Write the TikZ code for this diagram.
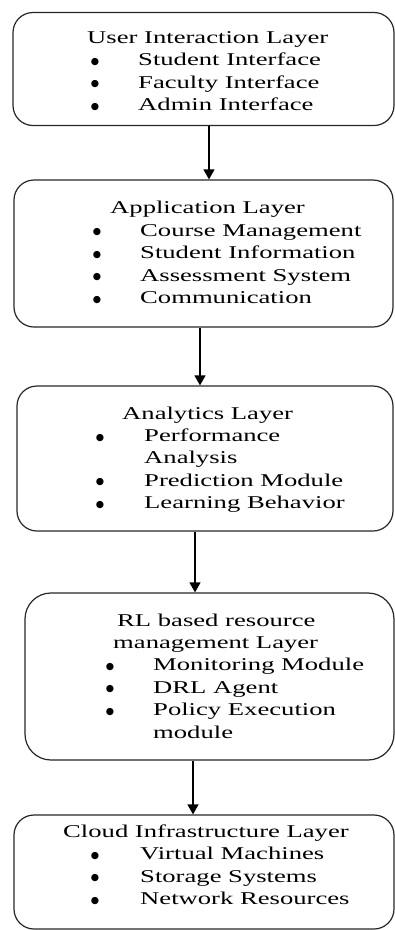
\documentclass[tikz,border=0pt]{standalone}
\usepackage{fontspec}
\setmainfont[FakeStretch=1.48]{Liberation Serif}
\newfontfamily\bulfont{DejaVu Sans}
\usetikzlibrary{arrows.meta}
\tikzset{
  layer/.style={draw=black!85, line width=1.2pt, rounded corners=20pt, minimum width=#1},
  txt/.style={anchor=base west, inner sep=0pt, font=\fontsize{18}{22}\selectfont},
  bul/.style={anchor=base, inner sep=0pt, font=\bulfont\fontsize{9.5}{22}\selectfont},
  arr/.style={draw=black, line width=1.4pt, -{Triangle[length=10pt,width=11pt]}}
}
\begin{document}
\begin{tikzpicture}[x=1pt,y=-1pt]
\useasboundingbox (0,0) rectangle (395,930);
% boxes
\node[layer=381pt, minimum height=113pt] (b1) at (203.5,69) {};
\node[layer=379pt, minimum height=147pt] (b2) at (203.5,253.5) {};
\node[layer=376pt, minimum height=145pt] (b3) at (205,458.5) {};
\node[layer=369pt, minimum height=167pt, rounded corners=26pt] (b4) at (209.5,676.5) {};
\node[layer=380pt, minimum height=114pt] (b5) at (204,872) {};
% box 1
\node[txt] (t1) at (87,43) {User Interaction Layer};
\node[bul] (p11) at (95,64) {●}; \node[txt] (t11) at (138,65.5) {Student Interface};
\node[bul] (p12) at (95,86.5) {●};   \node[txt] (t12) at (138,88) {Faculty Interface};
\node[bul] (p13) at (95,109) {●};\node[txt] (t13) at (138,110.5) {Admin Interface};
% box 2
\node[txt] (t2) at (110,213) {Application Layer};
\node[bul] (p21) at (97,234.5) {●}; \node[txt] (t21) at (140,236) {Course Management};
\node[bul] (p22) at (97,257) {●}; \node[txt] (t22) at (140,258.5) {Student Information};
\node[bul] (p23) at (97,279.5) {●}; \node[txt] (t23) at (140,281) {Assessment System};
\node[bul] (p24) at (97,302) {●}; \node[txt] (t24) at (140,303.5) {Communication};
% box 3
\node[txt] (t3) at (122,419) {Analytics Layer};
\node[bul] (p31) at (100,440) {●}; \node[txt] (t31) at (144,441.5) {Performance};
\node[txt] (t31b) at (144,463.5) {Analysis};
\node[bul] (p32) at (100,484.5) {●}; \node[txt] (t32) at (144,486) {Prediction Module};
\node[bul] (p33) at (100,507) {●}; \node[txt] (t33) at (144,508.5) {Learning Behavior};
% box 4
\node[txt] (t4) at (117,626) {RL based resource};
\node[txt] (t4b) at (113,648) {management Layer};
\node[bul] (p41) at (110,669) {●}; \node[txt] (t41) at (153,670.5) {Monitoring Module};
\node[bul] (p42) at (110,691.5) {●}; \node[txt] (t42) at (153,693) {DRL Agent};
\node[bul] (p43) at (110,714) {●}; \node[txt] (t43) at (153,715.5) {Policy Execution};
\node[txt] (t43b) at (153,738) {module};
% box 5
\node[txt] (t5) at (63,837) {Cloud Infrastructure Layer};
\node[bul] (p51) at (95,858) {●}; \node[txt] (t51) at (140,859.5) {Virtual Machines};
\node[bul] (p52) at (95,880.5) {●}; \node[txt] (t52) at (140,882) {Storage Systems};
\node[bul] (p53) at (95,903) {●}; \node[txt] (t53) at (140,904.5) {Network Resources};
% arrows
\coordinate (c1) at (209,0);
\coordinate (c2) at (200,0);
\coordinate (c3) at (195,0);
\coordinate (c4) at (193,0);
\draw[arr] (b1.south -| c1) -- (b2.north -| c1);
\draw[arr] (b2.south -| c2) -- (b3.north -| c2);
\draw[arr] (b3.south -| c3) -- (b4.north -| c3);
\draw[arr] (b4.south -| c4) -- (b5.north -| c4);
\end{tikzpicture}
\end{document}
